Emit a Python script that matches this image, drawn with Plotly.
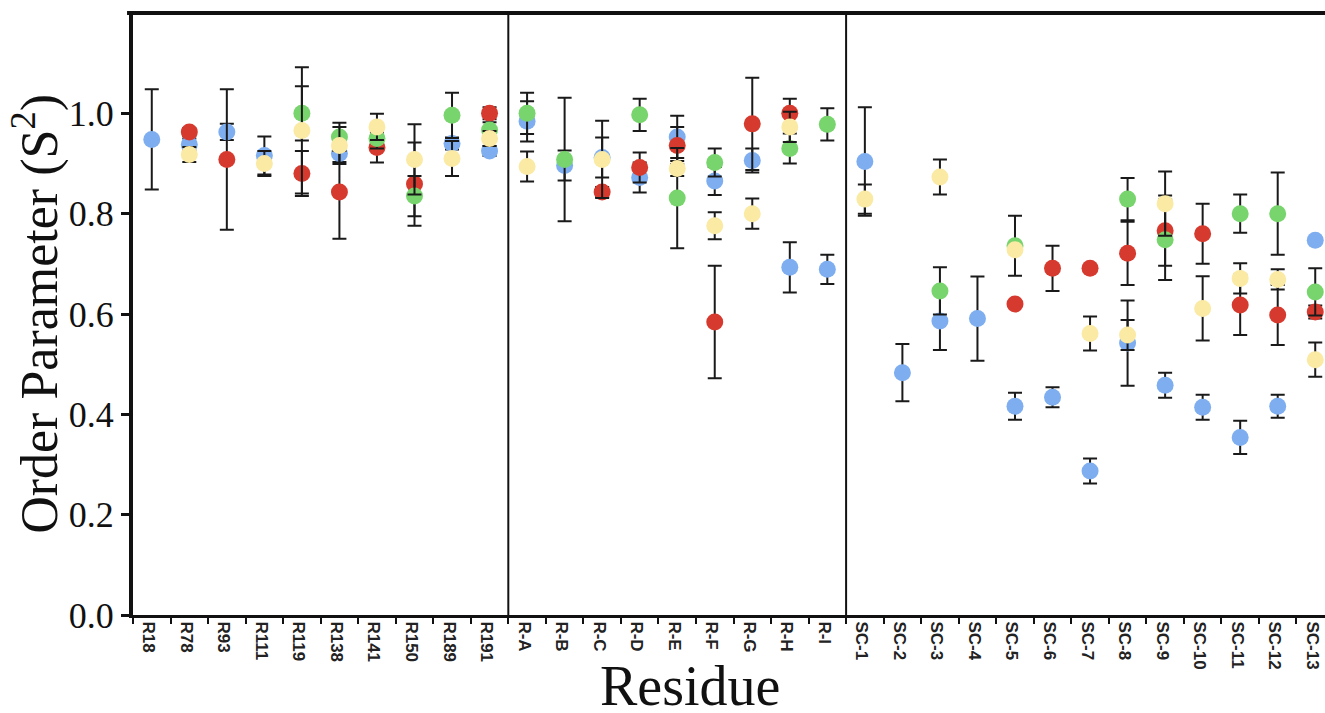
import plotly.graph_objects as go

residues = ["R18", "R78", "R93", "R111", "R119", "R138", "R141", "R150", "R189", "R191",
            "R-A", "R-B", "R-C", "R-D", "R-E", "R-F", "R-G", "R-H", "R-I",
            "SC-1", "SC-2", "SC-3", "SC-4", "SC-5", "SC-6", "SC-7", "SC-8", "SC-9",
            "SC-10", "SC-11", "SC-12", "SC-13"]

blue_val = [0.948, 0.938, 0.963, 0.916, None, 0.920, None, None, 0.940, 0.925,
            0.984, 0.896, 0.912, 0.872, 0.953, 0.865, 0.906, 0.693, 0.689,
            0.904, 0.483, 0.586, 0.591, 0.416, 0.434, 0.287, 0.542, 0.458,
            0.414, 0.354, 0.416, 0.747]
blue_err = [0.10, 0.012, 0.016, 0.038, 0, 0.017, 0, 0, 0.012, 0.01,
            0.04, 0.03, 0.04, 0.03, 0.042, 0.028, 0.024, 0.05, 0.029,
            0.108, 0.057, 0.058, 0.084, 0.027, 0.02, 0.025, 0.085, 0.025,
            0.025, 0.033, 0.023, 0]

red_val = [None, 0.963, 0.908, None, 0.880, 0.843, 0.932, 0.859, None, 1.0,
           None, None, 0.843, 0.892, 0.936, 0.584, 0.979, 1.0, None,
           None, None, None, None, 0.620, 0.691, 0.691, 0.721, 0.766,
           0.760, 0.618, 0.598, 0.604]
red_err = [0, 0.008, 0.14, 0, 0.045, 0.093, 0.03, 0.083, 0, 0.012,
           0, 0, 0.01, 0.03, 0.037, 0.112, 0.092, 0.029, 0,
           0, 0, 0, 0, 0, 0.045, 0.005, 0.063, 0.07,
           0.06, 0.06, 0.06, 0.013]

green_val = [None, None, None, None, 1.0, 0.953, 0.950, 0.835, 0.996, 0.967,
             1.0, 0.908, None, 0.997, 0.831, 0.902, None, 0.930, 0.978,
             None, None, 0.646, None, 0.736, None, None, 0.829, 0.748,
             None, 0.800, 0.800, 0.644]
green_err = [0, 0, 0, 0, 0.054, 0.028, 0.02, 0.04, 0.045, 0.015,
             0.041, 0.123, 0, 0.032, 0.10, 0.028, 0, 0.03, 0.032,
             0, 0, 0.047, 0, 0.06, 0, 0, 0.042, 0.08,
             0, 0.038, 0.082, 0.047]

yellow_val = [None, 0.918, None, 0.900, 0.966, 0.936, 0.973, 0.908, 0.910, 0.950,
              0.894, None, 0.908, None, 0.890, 0.776, 0.800, 0.973, None,
              0.829, None, 0.873, None, 0.728, None, 0.561, 0.558, 0.820,
              0.611, 0.671, 0.669, 0.509]
yellow_err = [0, 0.015, 0, 0.025, 0.126, 0.037, 0.026, 0.07, 0.035, 0.015,
              0.03, 0, 0.077, 0, 0.015, 0.027, 0.03, 0.03, 0,
              0.029, 0, 0.035, 0, 0, 0, 0.034, 0.03, 0.064,
              0.064, 0.03, 0.02, 0.034]

series = [
    ("blue", blue_val, blue_err, "#7EAEF0"),
    ("red", red_val, red_err, "#D63A2E"),
    ("green", green_val, green_err, "#78D46C"),
    ("yellow", yellow_val, yellow_err, "#FBEAA4"),
]

fig = go.Figure()
for name, vals, errs, color in series:
    fig.add_trace(go.Scatter(
        x=residues, y=vals, mode="markers", name=name,
        marker=dict(size=17, color=color, line=dict(width=0)),
        error_y=dict(type="data", array=errs, visible=True,
                     color="#1a1a1a", thickness=2, width=7),
        showlegend=False, cliponaxis=False,
    ))

# group separators
for xb in [9.5, 18.5]:
    fig.add_shape(type="line", xref="x", yref="y", x0=xb, x1=xb, y0=0, y1=1.2,
                  line=dict(color="#111", width=2))
# top frame line
fig.add_shape(type="line", xref="paper", yref="paper", x0=-0.005, x1=1, y0=1, y1=1,
              line=dict(color="#111", width=4))

fig.update_layout(
    width=1325, height=713,
    margin=dict(l=133, r=0, t=13, b=98, autoexpand=False),
    plot_bgcolor="white", paper_bgcolor="white",
    xaxis=dict(
        range=[-0.5, 31.26], showgrid=False, zeroline=False, automargin=False,
        showline=True, linecolor="#111", linewidth=3,
        ticks="outside", tickson="boundaries", ticklen=6, tickwidth=2, tickcolor="#111",
        tickangle=90, ticklabelshift=-3, ticklabeloverflow="allow",
        tickfont=dict(family="Liberation Sans", size=17, color="#222", weight="bold"),
    ),
    yaxis=dict(
        range=[0, 1.2], showgrid=False, zeroline=False, automargin=False,
        showline=True, linecolor="#111", linewidth=4,
        ticks="outside", ticklen=8, tickwidth=2.5, tickcolor="#111",
        tickvals=[0, 0.2, 0.4, 0.6, 0.8, 1.0],
        ticktext=["0.0", "0.2", "0.4", "0.6", "0.8", "1.0"],
        tickfont=dict(family="Liberation Serif", size=36, color="#111"),
    ),
    annotations=[
        dict(text="Residue", xref="paper", yref="paper", x=0.4675, y=-0.118,
             xanchor="center", yanchor="middle", showarrow=False,
             font=dict(family="Liberation Serif", size=56, color="#111")),
        dict(text="Order Parameter (S<sup>2</sup>)", xref="paper", yref="paper",
             x=-0.0815, y=0.5, xanchor="center", yanchor="middle", textangle=-90,
             showarrow=False,
             font=dict(family="Liberation Serif", size=52, color="#111")),
    ],
)

# remove the default page margin so the figure sits at the window's top-left corner
fig.write_html("out.html",
               config={"displayModeBar": False},
               post_script="document.body.style.margin='0';document.body.style.overflow='hidden';")
